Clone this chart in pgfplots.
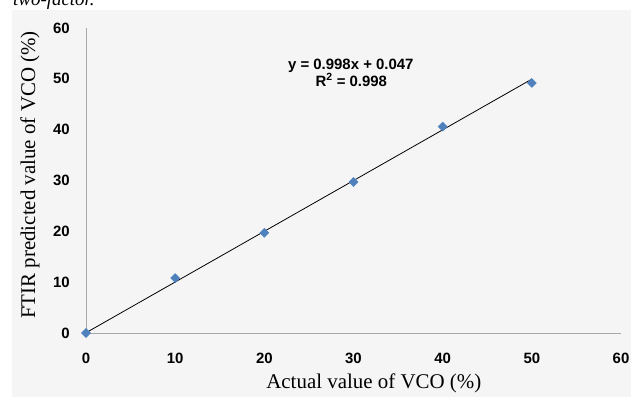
\documentclass[border=0pt]{standalone}
\usepackage{pgfplots}
\pgfplotsset{compat=1.18}
\usepackage{fontspec}
\setmainfont{Liberation Serif}
\newfontfamily\arialf{Liberation Sans}
\definecolor{panel}{HTML}{F5F5F5}
\definecolor{axgray}{HTML}{A8A8A8}
\definecolor{ptblue}{HTML}{4F81BD}
\begin{document}
\begin{tikzpicture}
\useasboundingbox (0,0) rectangle (631bp,397bp);
\fill[white] (0,0) rectangle (631bp,397bp);
\fill[panel] (12bp,0) rectangle (631bp,387bp);
\node[anchor=base west, inner sep=0, font=\fontsize{19}{21}\selectfont\itshape] at (13bp,391bp) {two-factor.};
\begin{axis}[
  at={(86bp,64bp)}, anchor=south west,
  scale only axis, width=535bp, height=305bp,
  xmin=0, xmax=60, ymin=0, ymax=60,
  axis x line=bottom, axis y line=left,
  axis line style={-, draw=axgray, line width=0.9bp},
  xtick={0,10,...,60}, ytick={0,10,...,60},
  major tick length=0,
  /pgf/number format/assume math mode=true,
  tick label style={font=\arialf\fontsize{15}{17}\selectfont\bfseries, inner sep=0},
  xticklabel style={anchor=center, yshift=-25bp},
  yticklabel style={anchor=east, xshift=-16bp},
  xlabel={Actual value of VCO (\%)},
  ylabel={FTIR predicted value of VCO (\%)},
  every axis x label/.style={at={(0.538,-0.164)}, anchor=center, font=\fontsize{21}{23}\selectfont},
  every axis y label/.style={at={(-0.1047,0.518)}, anchor=center, rotate=90, font=\fontsize{21}{23}\selectfont},
  clip=false,
]
\addplot[black, line width=0.8bp, no marks] coordinates {(0,0.047) (50,49.947)};
\addplot[only marks, mark=square*, mark size=3.2bp, mark options={rotate=45, fill=ptblue, draw=ptblue}]
  coordinates {(0,0) (10,10.8) (20,19.7) (30,29.7) (40,40.6) (50,49.2)};
\node[font=\arialf\fontsize{15}{17}\selectfont\bfseries, inner sep=0] at (axis cs:29.7,52.5) {y = 0.998x + 0.047};
\node[font=\arialf\fontsize{15}{17}\selectfont\bfseries, inner sep=0] at (axis cs:29.75,49.8) {R\textsuperscript{2} = 0.998};
\end{axis}
\end{tikzpicture}
\end{document}
